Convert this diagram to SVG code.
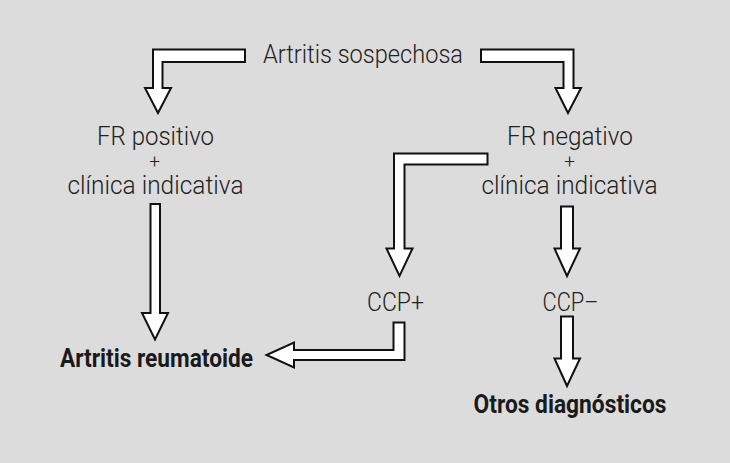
<svg xmlns="http://www.w3.org/2000/svg" width="730" height="463" viewBox="0 0 730 463">
  <style>
    .bg { fill: #dcdcdc; }
    .arrow { fill: #ffffff; stroke: #111111; stroke-width: 2; stroke-linejoin: miter; }
    .t { font-family: Roboto, "Liberation Sans", sans-serif; font-weight: 300; font-size: 25px; fill: #222222; text-anchor: middle; }
    .p { font-family: Roboto, "Liberation Sans", sans-serif; font-weight: 300; font-size: 19px; fill: #222222; text-anchor: middle; }
    .b { font-family: Roboto, "Liberation Sans", sans-serif; font-weight: 700; font-size: 26px; fill: #1a1a1a; text-anchor: middle; }
  </style>
  <rect class="bg" x="0" y="0" width="730" height="463"/>

  <g id="connectors">
    <polygon class="arrow" points="245,49.5 153,49.5 153,88 145,88 158,113 171,88 162.5,88 162.5,62 245,62"/>
    <polygon class="arrow" points="481,49.5 573.5,49.5 573.5,88 581,88 568,113 555.5,88 563.5,88 563.5,62 481,62"/>
    <polygon class="arrow" points="487.5,153.5 394,153.5 394,248.5 386.5,248.5 399.5,276 412.5,248.5 404.5,248.5 404.5,164.5 487.5,164.5"/>
    <polygon class="arrow" points="393.5,322.5 404.5,322.5 404.5,360 294,360 294,367.5 266.5,355 294,342.5 294,350 393.5,350"/>
    <polygon class="arrow" points="561,206.5 573,206.5 573,248.5 580,248.5 567,276 554.5,248.5 561,248.5"/>
    <polygon class="arrow" points="561,316.5 573,316.5 573,358.5 580,358.5 567,386 554.5,358.5 561,358.5"/>
    <polygon class="arrow" points="150.5,204 160,204 160,313 168,313 155,339.5 142,313 150.5,313"/>
  </g>

  <g id="node-artritis-sospechosa">
    <text class="t" x="363" y="62.5" textLength="200" lengthAdjust="spacingAndGlyphs">Artritis sospechosa</text>
  </g>
  <g id="node-fr-positivo">
    <text class="t" x="155.5" y="145" textLength="117" lengthAdjust="spacingAndGlyphs">FR positivo</text>
    <text class="p" x="154.5" y="168">+</text>
    <text class="t" x="155.5" y="194" textLength="176" lengthAdjust="spacingAndGlyphs">clínica indicativa</text>
  </g>
  <g id="node-fr-negativo">
    <text class="t" x="570" y="145" textLength="126" lengthAdjust="spacingAndGlyphs">FR negativo</text>
    <text class="p" x="569.5" y="168">+</text>
    <text class="t" x="569.5" y="194" textLength="176" lengthAdjust="spacingAndGlyphs">clínica indicativa</text>
  </g>
  <g id="node-ccp-pos">
    <text class="t" x="395.5" y="311" textLength="57" lengthAdjust="spacingAndGlyphs">CCP+</text>
  </g>
  <g id="node-ccp-neg">
    <text class="t" x="570.5" y="311" textLength="56" lengthAdjust="spacingAndGlyphs">CCP–</text>
  </g>
  <g id="node-artritis-reumatoide">
    <text class="b" x="156.5" y="366.5" textLength="193" lengthAdjust="spacingAndGlyphs">Artritis reumatoide</text>
  </g>
  <g id="node-otros-diagnosticos">
    <text class="b" x="570" y="412.5" textLength="193" lengthAdjust="spacingAndGlyphs">Otros diagnósticos</text>
  </g>
</svg>
